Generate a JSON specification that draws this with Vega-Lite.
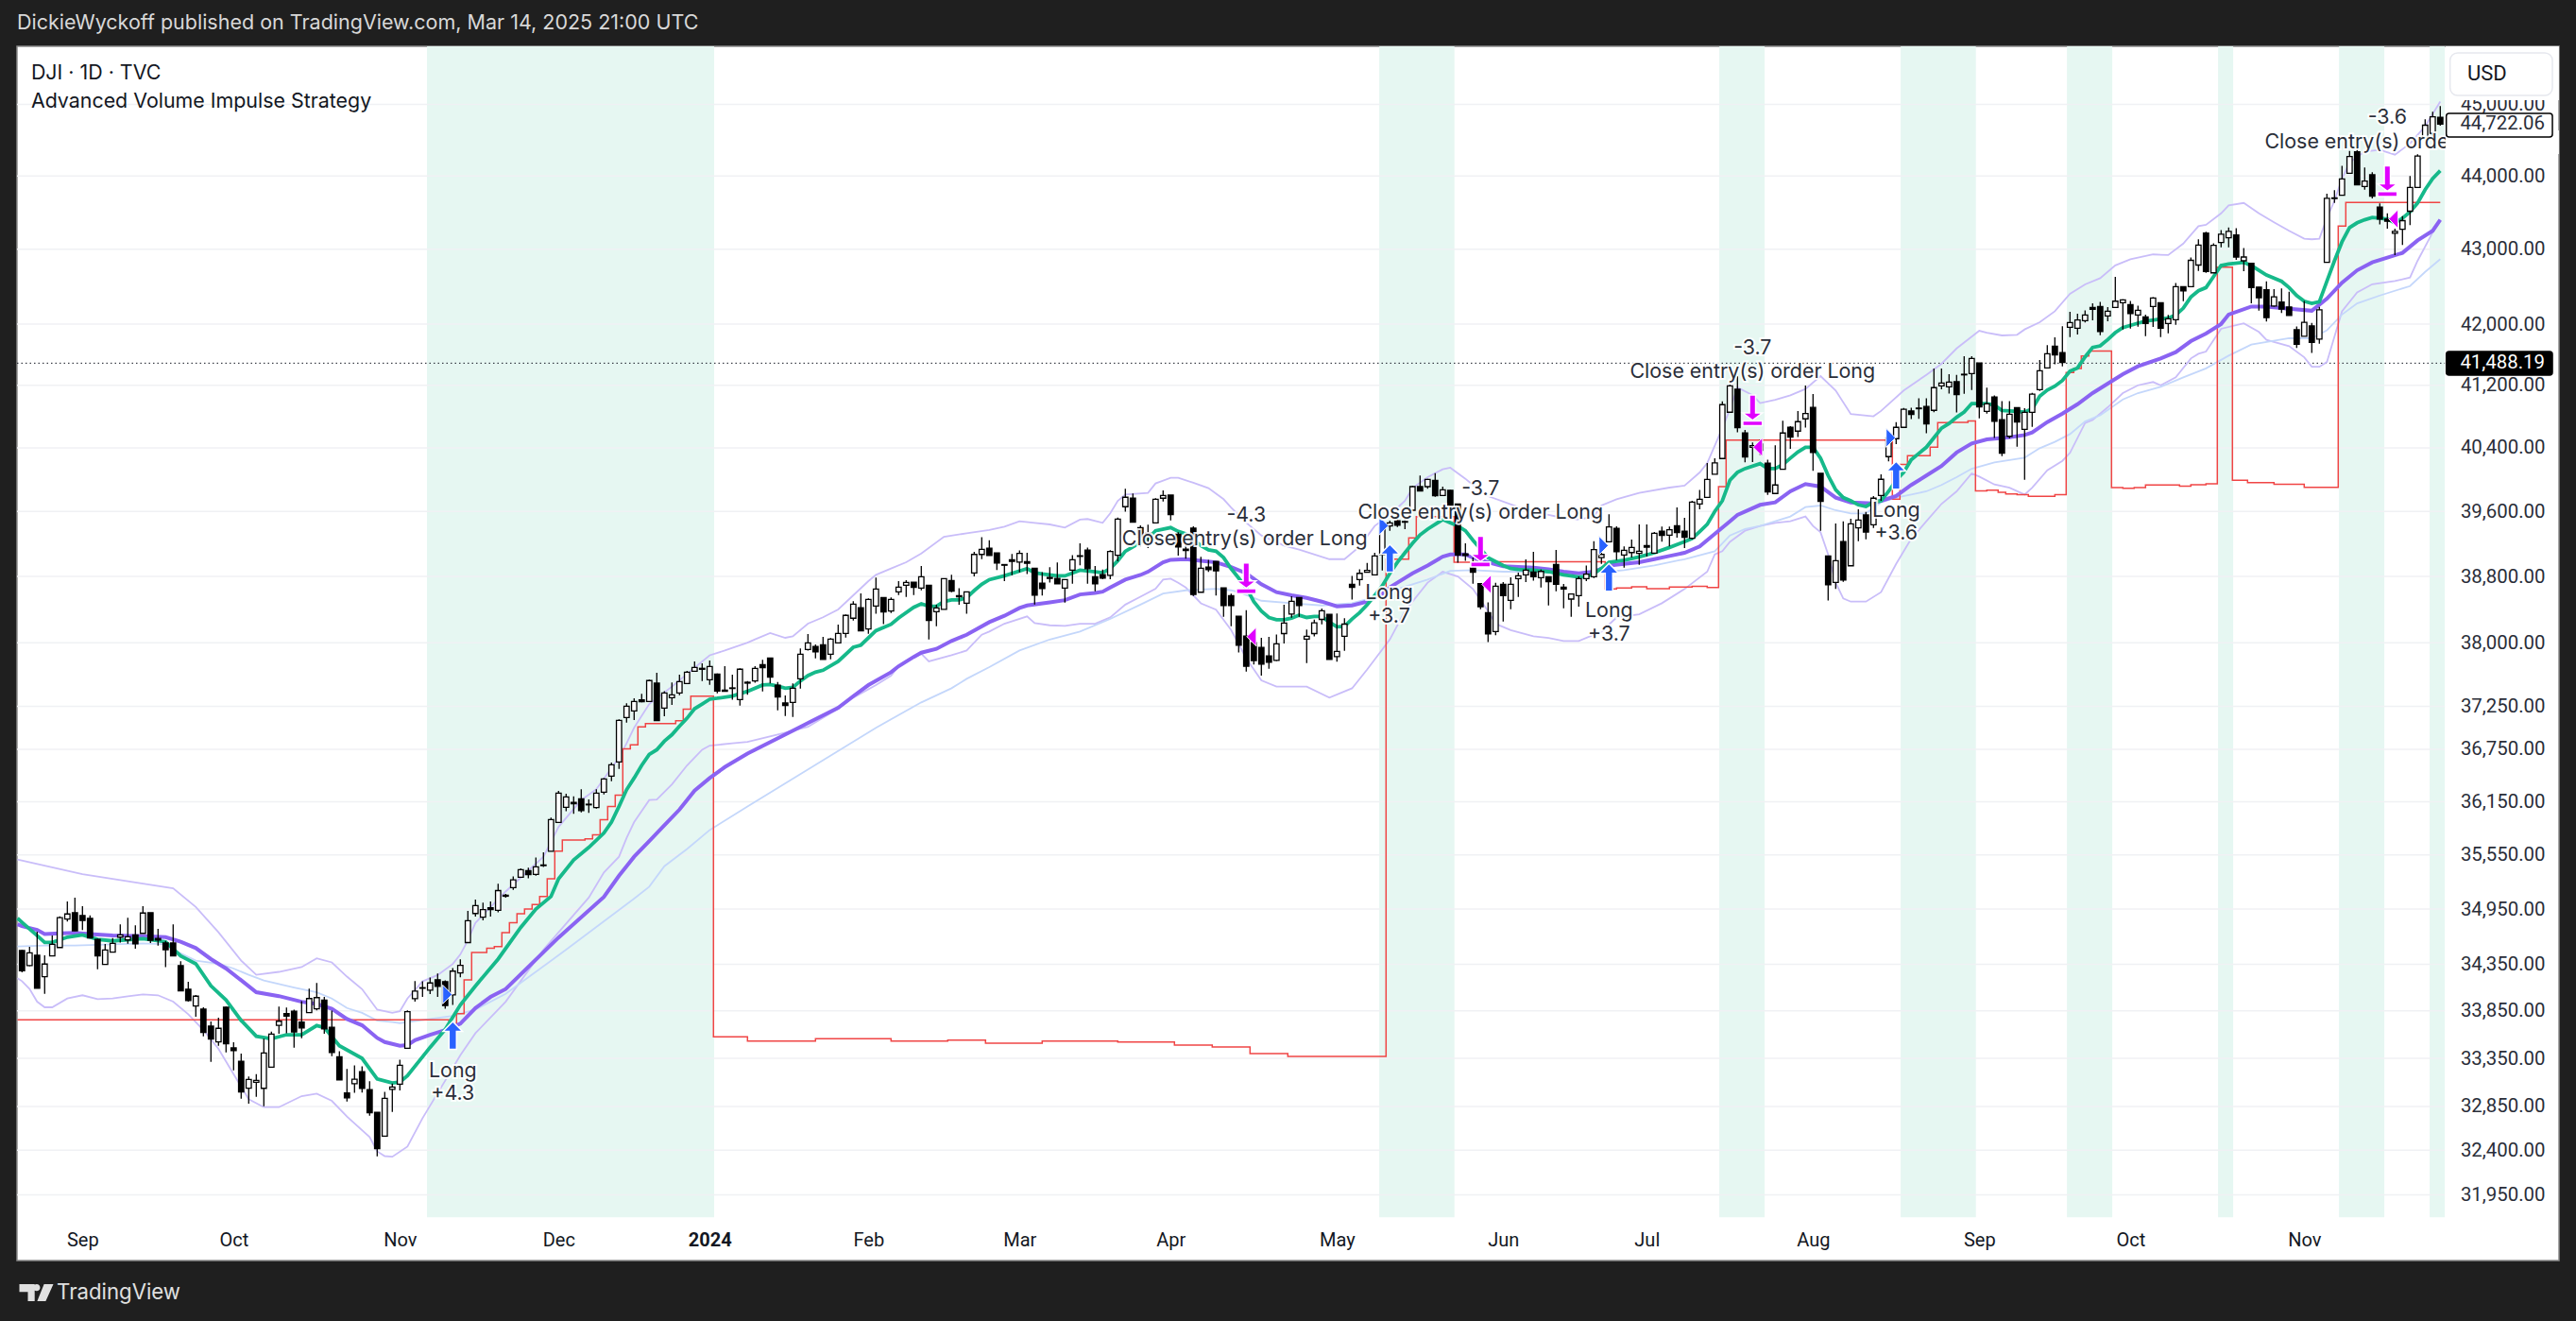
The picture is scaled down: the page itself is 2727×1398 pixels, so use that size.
{"$schema":"https://vega.github.io/schema/vega-lite/v6.json","width":2691,"height":1285,"autosize":{"type":"none"},"padding":{"left":18,"top":49,"right":18,"bottom":64},"background":"#1f1f1f","view":{"fill":"#ffffff","stroke":"#8a8a8a","strokeWidth":1.5},
"config":{"axis":{"title":null,"grid":false,"ticks":false,"domain":false}},
"title":{"text":"DickieWyckoff published on TradingView.com, Mar 14, 2025 21:00 UTC","anchor":"start","frame":"group","offset":14,"color":"#d8d8d8","font":"Inter","fontSize":21.5,"fontWeight":"normal"},
"datasets":{
"bars":[{"i":0,"o":34498,"h":34505,"l":34264,"c":34281},{"i":1,"o":34335,"h":34539,"l":34328,"c":34474},{"i":2,"o":34447,"h":34702,"l":34091,"c":34091},{"i":3,"o":34216,"h":34447,"l":34033,"c":34352},{"i":4,"o":34440,"h":34661,"l":34440,"c":34565},{"i":5,"o":34531,"h":34870,"l":34531,"c":34856},{"i":6,"o":34842,"h":35035,"l":34815,"c":34897},{"i":7,"o":34911,"h":35077,"l":34712,"c":34712},{"i":8,"o":34880,"h":34983,"l":34722,"c":34825},{"i":9,"o":34849,"h":34880,"l":34634,"c":34634},{"i":10,"o":34620,"h":34625,"l":34295,"c":34440},{"i":11,"o":34349,"h":34570,"l":34349,"c":34505},{"i":12,"o":34481,"h":34634,"l":34481,"c":34576},{"i":13,"o":34644,"h":34784,"l":34586,"c":34668},{"i":14,"o":34613,"h":34856,"l":34573,"c":34648},{"i":15,"o":34668,"h":34774,"l":34518,"c":34570},{"i":16,"o":34685,"h":34983,"l":34685,"c":34907},{"i":17,"o":34911,"h":34911,"l":34580,"c":34610},{"i":18,"o":34630,"h":34733,"l":34552,"c":34613},{"i":19,"o":34580,"h":34603,"l":34318,"c":34508},{"i":20,"o":34580,"h":34784,"l":34440,"c":34440},{"i":21,"o":34335,"h":34382,"l":34064,"c":34064},{"i":22,"o":34081,"h":34161,"l":33950,"c":33960},{"i":23,"o":33902,"h":34020,"l":33788,"c":34007},{"i":24,"o":33869,"h":33889,"l":33582,"c":33622},{"i":25,"o":33689,"h":33739,"l":33314,"c":33552},{"i":26,"o":33522,"h":33778,"l":33482,"c":33666},{"i":27,"o":33889,"h":33896,"l":33413,"c":33502},{"i":28,"o":33459,"h":33519,"l":33224,"c":33432},{"i":29,"o":33320,"h":33399,"l":32930,"c":32999},{"i":30,"o":33038,"h":33159,"l":32878,"c":33129},{"i":31,"o":33100,"h":33185,"l":32950,"c":33119},{"i":32,"o":33037,"h":33555,"l":32852,"c":33405},{"i":33,"o":33257,"h":33631,"l":33257,"c":33604},{"i":34,"o":33698,"h":33897,"l":33608,"c":33741},{"i":35,"o":33823,"h":33887,"l":33614,"c":33796},{"i":36,"o":33847,"h":33863,"l":33461,"c":33627},{"i":37,"o":33732,"h":33954,"l":33561,"c":33670},{"i":38,"o":33833,"h":34089,"l":33833,"c":33982},{"i":39,"o":33873,"h":34149,"l":33857,"c":33992},{"i":40,"o":33965,"h":33999,"l":33608,"c":33660},{"i":41,"o":33677,"h":33853,"l":33372,"c":33412},{"i":42,"o":33366,"h":33425,"l":33124,"c":33124},{"i":43,"o":32990,"h":33240,"l":32900,"c":32939},{"i":44,"o":33085,"h":33277,"l":32990,"c":33131},{"i":45,"o":33211,"h":33267,"l":32994,"c":33037},{"i":46,"o":33024,"h":33111,"l":32755,"c":32784},{"i":47,"o":32790,"h":32790,"l":32338,"c":32416},{"i":48,"o":32544,"h":33001,"l":32544,"c":32933},{"i":49,"o":33027,"h":33086,"l":32793,"c":33050},{"i":50,"o":33080,"h":33335,"l":33014,"c":33277},{"i":51,"o":33455,"h":33857,"l":33455,"c":33843},{"i":52,"o":33980,"h":34170,"l":33948,"c":34062},{"i":53,"o":34092,"h":34166,"l":33999,"c":34098},{"i":54,"o":34071,"h":34207,"l":34030,"c":34149},{"i":55,"o":34183,"h":34251,"l":33999,"c":34112},{"i":56,"o":34163,"h":34176,"l":33874,"c":33907},{"i":57,"o":34022,"h":34310,"l":33914,"c":34276},{"i":58,"o":34256,"h":34403,"l":34210,"c":34338},{"i":59,"o":34585,"h":34930,"l":34585,"c":34823},{"i":60,"o":34902,"h":35056,"l":34868,"c":34989},{"i":61,"o":34861,"h":35021,"l":34827,"c":34944},{"i":62,"o":34965,"h":35035,"l":34868,"c":34944},{"i":63,"o":34937,"h":35229,"l":34916,"c":35154},{"i":64,"o":35103,"h":35117,"l":35075,"c":35092},{"i":65,"o":35187,"h":35312,"l":35163,"c":35274},{"i":66,"o":35302,"h":35400,"l":35295,"c":35386},{"i":67,"o":35375,"h":35407,"l":35291,"c":35330},{"i":68,"o":35333,"h":35522,"l":35319,"c":35417},{"i":69,"o":35431,"h":35578,"l":35417,"c":35438},{"i":70,"o":35592,"h":35970,"l":35592,"c":35946},{"i":71,"o":35914,"h":36272,"l":35914,"c":36247},{"i":72,"o":36085,"h":36240,"l":36042,"c":36204},{"i":73,"o":36143,"h":36211,"l":36013,"c":36125},{"i":74,"o":36183,"h":36292,"l":36028,"c":36049},{"i":75,"o":36114,"h":36175,"l":36024,"c":36121},{"i":76,"o":36082,"h":36292,"l":36071,"c":36247},{"i":77,"o":36258,"h":36419,"l":36233,"c":36408},{"i":78,"o":36441,"h":36596,"l":36383,"c":36571},{"i":79,"o":36604,"h":37096,"l":36524,"c":37085},{"i":80,"o":37118,"h":37284,"l":37059,"c":37251},{"i":81,"o":37195,"h":37343,"l":37088,"c":37306},{"i":82,"o":37325,"h":37395,"l":37295,"c":37302},{"i":83,"o":37306,"h":37562,"l":37306,"c":37551},{"i":84,"o":37521,"h":37644,"l":37081,"c":37081},{"i":85,"o":37228,"h":37425,"l":37132,"c":37406},{"i":86,"o":37350,"h":37528,"l":37266,"c":37383},{"i":87,"o":37406,"h":37621,"l":37380,"c":37539},{"i":88,"o":37517,"h":37666,"l":37510,"c":37651},{"i":89,"o":37662,"h":37777,"l":37662,"c":37707},{"i":90,"o":37696,"h":37755,"l":37547,"c":37685},{"i":91,"o":37562,"h":37789,"l":37502,"c":37718},{"i":92,"o":37629,"h":37636,"l":37402,"c":37428},{"i":93,"o":37439,"h":37722,"l":37425,"c":37425},{"i":94,"o":37458,"h":37621,"l":37325,"c":37465},{"i":95,"o":37328,"h":37696,"l":37258,"c":37685},{"i":96,"o":37532,"h":37547,"l":37384,"c":37521},{"i":97,"o":37547,"h":37722,"l":37525,"c":37696},{"i":98,"o":37740,"h":37796,"l":37424,"c":37703},{"i":99,"o":37817,"h":37821,"l":37517,"c":37591},{"i":100,"o":37498,"h":37535,"l":37203,"c":37358},{"i":101,"o":37288,"h":37376,"l":37136,"c":37258},{"i":102,"o":37295,"h":37517,"l":37125,"c":37461},{"i":103,"o":37572,"h":37931,"l":37458,"c":37863},{"i":104,"o":37920,"h":38104,"l":37908,"c":37999},{"i":105,"o":37957,"h":37980,"l":37815,"c":37893},{"i":106,"o":37976,"h":38071,"l":37802,"c":37802},{"i":107,"o":37863,"h":38055,"l":37802,"c":38043},{"i":108,"o":37999,"h":38218,"l":37999,"c":38111},{"i":109,"o":38111,"h":38340,"l":38061,"c":38328},{"i":110,"o":38294,"h":38499,"l":38267,"c":38463},{"i":111,"o":38421,"h":38593,"l":38142,"c":38142},{"i":112,"o":38165,"h":38533,"l":38108,"c":38521},{"i":113,"o":38440,"h":38785,"l":38347,"c":38647},{"i":114,"o":38544,"h":38544,"l":38222,"c":38370},{"i":115,"o":38381,"h":38544,"l":38358,"c":38521},{"i":116,"o":38613,"h":38743,"l":38575,"c":38670},{"i":117,"o":38693,"h":38754,"l":38551,"c":38728},{"i":118,"o":38731,"h":38731,"l":38575,"c":38666},{"i":119,"o":38658,"h":38927,"l":38632,"c":38797},{"i":120,"o":38693,"h":38693,"l":38040,"c":38267},{"i":121,"o":38373,"h":38457,"l":38199,"c":38419},{"i":122,"o":38400,"h":38774,"l":38400,"c":38774},{"i":123,"o":38751,"h":38820,"l":38609,"c":38620},{"i":124,"o":38567,"h":38658,"l":38457,"c":38552},{"i":125,"o":38476,"h":38613,"l":38347,"c":38613},{"i":126,"o":38842,"h":39100,"l":38800,"c":39069},{"i":127,"o":39069,"h":39282,"l":39010,"c":39131},{"i":128,"o":39146,"h":39244,"l":39056,"c":39056},{"i":129,"o":39088,"h":39088,"l":38879,"c":38964},{"i":130,"o":38945,"h":38945,"l":38742,"c":38937},{"i":131,"o":39003,"h":39076,"l":38814,"c":38984},{"i":132,"o":38976,"h":39118,"l":38849,"c":39083},{"i":133,"o":38980,"h":39088,"l":38830,"c":38961},{"i":134,"o":38899,"h":38899,"l":38459,"c":38573},{"i":135,"o":38719,"h":38853,"l":38569,"c":38654},{"i":136,"o":38788,"h":38914,"l":38726,"c":38776},{"i":137,"o":38776,"h":38972,"l":38711,"c":38711},{"i":138,"o":38658,"h":38761,"l":38482,"c":38761},{"i":139,"o":38876,"h":39061,"l":38711,"c":39003},{"i":140,"o":39045,"h":39205,"l":38937,"c":39053},{"i":141,"o":39122,"h":39153,"l":38711,"c":38895},{"i":142,"o":38795,"h":38926,"l":38619,"c":38711},{"i":143,"o":38822,"h":38883,"l":38765,"c":38780},{"i":144,"o":38814,"h":39122,"l":38765,"c":39106},{"i":145,"o":39060,"h":39525,"l":38984,"c":39506},{"i":146,"o":39659,"h":39883,"l":39596,"c":39777},{"i":147,"o":39765,"h":39824,"l":39467,"c":39467},{"i":148,"o":39400,"h":39427,"l":39162,"c":39284},{"i":149,"o":39329,"h":39435,"l":39146,"c":39314},{"i":150,"o":39459,"h":39765,"l":39459,"c":39753},{"i":151,"o":39765,"h":39863,"l":39725,"c":39800},{"i":152,"o":39804,"h":39804,"l":39490,"c":39561},{"i":153,"o":39318,"h":39342,"l":39056,"c":39162},{"i":154,"o":39134,"h":39205,"l":39018,"c":39118},{"i":155,"o":39392,"h":39416,"l":38562,"c":38581},{"i":156,"o":38608,"h":39041,"l":38608,"c":38899},{"i":157,"o":38914,"h":39003,"l":38856,"c":38883},{"i":158,"o":38984,"h":38984,"l":38569,"c":38868},{"i":159,"o":38662,"h":38662,"l":38311,"c":38448},{"i":160,"o":38565,"h":38592,"l":38197,"c":38448},{"i":161,"o":38318,"h":38318,"l":37884,"c":37971},{"i":162,"o":38080,"h":38391,"l":37658,"c":37721},{"i":163,"o":38001,"h":38001,"l":37740,"c":37788},{"i":164,"o":37944,"h":38058,"l":37610,"c":37747},{"i":165,"o":37843,"h":38069,"l":37691,"c":37769},{"i":166,"o":37791,"h":38099,"l":37784,"c":37986},{"i":167,"o":38110,"h":38456,"l":37990,"c":38235},{"i":168,"o":38345,"h":38559,"l":38299,"c":38498},{"i":169,"o":38544,"h":38544,"l":38311,"c":38448},{"i":170,"o":38043,"h":38159,"l":37758,"c":38077},{"i":171,"o":38110,"h":38276,"l":38077,"c":38239},{"i":172,"o":38280,"h":38410,"l":38220,"c":38383},{"i":173,"o":38341,"h":38341,"l":37802,"c":37802},{"i":174,"o":37836,"h":38352,"l":37776,"c":37896},{"i":175,"o":38077,"h":38295,"l":37903,"c":38223},{"i":176,"o":38704,"h":38807,"l":38518,"c":38666},{"i":177,"o":38762,"h":38888,"l":38689,"c":38838},{"i":178,"o":38850,"h":38965,"l":38850,"c":38873},{"i":179,"o":38819,"h":39089,"l":38819,"c":39050},{"i":180,"o":39069,"h":39440,"l":38873,"c":39400},{"i":181,"o":39420,"h":39487,"l":39361,"c":39459},{"i":182,"o":39483,"h":39498,"l":39408,"c":39428},{"i":183,"o":39467,"h":39538,"l":39381,"c":39475},{"i":184,"o":39615,"h":39922,"l":39615,"c":39910},{"i":185,"o":39910,"h":40049,"l":39855,"c":39855},{"i":186,"o":39910,"h":40009,"l":39882,"c":40001},{"i":187,"o":39989,"h":40080,"l":39784,"c":39795},{"i":188,"o":39799,"h":39910,"l":39791,"c":39870},{"i":189,"o":39863,"h":39870,"l":39666,"c":39666},{"i":190,"o":39694,"h":39694,"l":38968,"c":39061},{"i":191,"o":39077,"h":39206,"l":38992,"c":39057},{"i":192,"o":38904,"h":39030,"l":38712,"c":38850},{"i":193,"o":38712,"h":38712,"l":38402,"c":38433},{"i":194,"o":38361,"h":38486,"l":38009,"c":38107},{"i":195,"o":38133,"h":38723,"l":38091,"c":38681},{"i":196,"o":38704,"h":38731,"l":38254,"c":38567},{"i":197,"o":38509,"h":38788,"l":38402,"c":38704},{"i":198,"o":38773,"h":38846,"l":38551,"c":38808},{"i":199,"o":38819,"h":39007,"l":38731,"c":38877},{"i":200,"o":38854,"h":39100,"l":38750,"c":38796},{"i":201,"o":38784,"h":38884,"l":38666,"c":38861},{"i":202,"o":38796,"h":38796,"l":38448,"c":38735},{"i":203,"o":38946,"h":39124,"l":38620,"c":38704},{"i":204,"o":38670,"h":38708,"l":38414,"c":38647},{"i":205,"o":38525,"h":38586,"l":38311,"c":38586},{"i":206,"o":38567,"h":38800,"l":38433,"c":38773},{"i":207,"o":38773,"h":38934,"l":38743,"c":38827},{"i":208,"o":38796,"h":39233,"l":38781,"c":39128},{"i":209,"o":39030,"h":39147,"l":38953,"c":39069},{"i":210,"o":39225,"h":39564,"l":39225,"c":39408},{"i":211,"o":39389,"h":39416,"l":38999,"c":39104},{"i":212,"o":39061,"h":39167,"l":38908,"c":39120},{"i":213,"o":39092,"h":39252,"l":39030,"c":39155},{"i":214,"o":39081,"h":39440,"l":38942,"c":39108},{"i":215,"o":39178,"h":39440,"l":39042,"c":39159},{"i":216,"o":39085,"h":39346,"l":39077,"c":39330},{"i":217,"o":39354,"h":39412,"l":39225,"c":39303},{"i":218,"o":39307,"h":39412,"l":39167,"c":39373},{"i":219,"o":39424,"h":39651,"l":39276,"c":39338},{"i":220,"o":39354,"h":39522,"l":39147,"c":39280},{"i":221,"o":39268,"h":39732,"l":39256,"c":39717},{"i":222,"o":39694,"h":39870,"l":39627,"c":39752},{"i":223,"o":39775,"h":40207,"l":39775,"c":40001},{"i":224,"o":40065,"h":40268,"l":40065,"c":40208},{"i":225,"o":40264,"h":40992,"l":40264,"c":40951},{"i":226,"o":40854,"h":41206,"l":40854,"c":41194},{"i":227,"o":41150,"h":41317,"l":40596,"c":40657},{"i":228,"o":40588,"h":40628,"l":40216,"c":40284},{"i":229,"o":40407,"h":40467,"l":40220,"c":40427},{"i":230,"o":40447,"h":40508,"l":40308,"c":40367},{"i":231,"o":40204,"h":40248,"l":39805,"c":39844},{"i":232,"o":39824,"h":40431,"l":39824,"c":39931},{"i":233,"o":40129,"h":40745,"l":40129,"c":40588},{"i":234,"o":40660,"h":40676,"l":40387,"c":40536},{"i":235,"o":40612,"h":40870,"l":40536,"c":40733},{"i":236,"o":40769,"h":41198,"l":40657,"c":40838},{"i":237,"o":40915,"h":41089,"l":40109,"c":40340},{"i":238,"o":40077,"h":40077,"l":39361,"c":39725},{"i":239,"o":39050,"h":39050,"l":38509,"c":38700},{"i":240,"o":38727,"h":39451,"l":38647,"c":38992},{"i":241,"o":39228,"h":39478,"l":38733,"c":38756},{"i":242,"o":38930,"h":39510,"l":38930,"c":39447},{"i":243,"o":39396,"h":39627,"l":39232,"c":39494},{"i":244,"o":39556,"h":39595,"l":39255,"c":39345},{"i":245,"o":39435,"h":39793,"l":39396,"c":39765},{"i":246,"o":39800,"h":40065,"l":39733,"c":40002},{"i":247,"o":40288,"h":40608,"l":40228,"c":40528},{"i":248,"o":40516,"h":40728,"l":40447,"c":40660},{"i":249,"o":40660,"h":40907,"l":40660,"c":40891},{"i":250,"o":40870,"h":40911,"l":40765,"c":40826},{"i":251,"o":40907,"h":41032,"l":40769,"c":40899},{"i":252,"o":40927,"h":41032,"l":40584,"c":40705},{"i":253,"o":40878,"h":41419,"l":40854,"c":41170},{"i":254,"o":41194,"h":41419,"l":41150,"c":41231},{"i":255,"o":41182,"h":41345,"l":41093,"c":41243},{"i":256,"o":41247,"h":41337,"l":40850,"c":41081},{"i":257,"o":41336,"h":41579,"l":41091,"c":41344},{"i":258,"o":41352,"h":41579,"l":41140,"c":41550},{"i":259,"o":41492,"h":41492,"l":40776,"c":40921},{"i":260,"o":40864,"h":41169,"l":40836,"c":40961},{"i":261,"o":41050,"h":41071,"l":40526,"c":40739},{"i":262,"o":40759,"h":40997,"l":40295,"c":40331},{"i":263,"o":40546,"h":40997,"l":40518,"c":40828},{"i":264,"o":40913,"h":40913,"l":40415,"c":40727},{"i":265,"o":40634,"h":40904,"l":39997,"c":40852},{"i":266,"o":40852,"h":41102,"l":40667,"c":41087},{"i":267,"o":41144,"h":41529,"l":41128,"c":41389},{"i":268,"o":41426,"h":41723,"l":41426,"c":41611},{"i":269,"o":41710,"h":41826,"l":41475,"c":41595},{"i":270,"o":41627,"h":41971,"l":41447,"c":41496},{"i":271,"o":41959,"h":42162,"l":41830,"c":42021},{"i":272,"o":41946,"h":42137,"l":41863,"c":42054},{"i":273,"o":42046,"h":42183,"l":42021,"c":42121},{"i":274,"o":42220,"h":42275,"l":42050,"c":42195},{"i":275,"o":42233,"h":42295,"l":41855,"c":41904},{"i":276,"o":42108,"h":42225,"l":42038,"c":42170},{"i":277,"o":42220,"h":42628,"l":42220,"c":42304},{"i":278,"o":42283,"h":42329,"l":41930,"c":42321},{"i":279,"o":42258,"h":42308,"l":41942,"c":42141},{"i":280,"o":42121,"h":42245,"l":41967,"c":42183},{"i":281,"o":42096,"h":42125,"l":41842,"c":42008},{"i":282,"o":42233,"h":42358,"l":41963,"c":42346},{"i":283,"o":42283,"h":42283,"l":41830,"c":41946},{"i":284,"o":42009,"h":42121,"l":41880,"c":42071},{"i":285,"o":42058,"h":42547,"l":41992,"c":42497},{"i":286,"o":42497,"h":42497,"l":42304,"c":42441},{"i":287,"o":42497,"h":42888,"l":42497,"c":42850},{"i":288,"o":42787,"h":43133,"l":42707,"c":43056},{"i":289,"o":43219,"h":43237,"l":42682,"c":42699},{"i":290,"o":42682,"h":43079,"l":42682,"c":43053},{"i":291,"o":43091,"h":43258,"l":43027,"c":43202},{"i":292,"o":43155,"h":43296,"l":43027,"c":43241},{"i":293,"o":43194,"h":43284,"l":42857,"c":42895},{"i":294,"o":42844,"h":43015,"l":42704,"c":42895},{"i":295,"o":42810,"h":42810,"l":42274,"c":42484},{"i":296,"o":42492,"h":42492,"l":42178,"c":42350},{"i":297,"o":42455,"h":42567,"l":42036,"c":42086},{"i":298,"o":42240,"h":42464,"l":42232,"c":42362},{"i":299,"o":42291,"h":42472,"l":42148,"c":42199},{"i":300,"o":42228,"h":42430,"l":42115,"c":42115},{"i":301,"o":41926,"h":41968,"l":41686,"c":41735},{"i":302,"o":41839,"h":42308,"l":41839,"c":42023},{"i":303,"o":41977,"h":42015,"l":41623,"c":41760},{"i":304,"o":41802,"h":42228,"l":41744,"c":42190},{"i":305,"o":42823,"h":43755,"l":42823,"c":43694},{"i":306,"o":43690,"h":43804,"l":43629,"c":43699},{"i":307,"o":43734,"h":44140,"l":43734,"c":43961},{"i":308,"o":44039,"h":44347,"l":44039,"c":44272},{"i":309,"o":44337,"h":44403,"l":43877,"c":43877},{"i":310,"o":43856,"h":44118,"l":43812,"c":43930},{"i":311,"o":44017,"h":44052,"l":43690,"c":43721},{"i":312,"o":43573,"h":43625,"l":43336,"c":43409},{"i":313,"o":43409,"h":43487,"l":43280,"c":43379},{"i":314,"o":43215,"h":43280,"l":42921,"c":43241},{"i":315,"o":43271,"h":43449,"l":43057,"c":43388},{"i":316,"o":43517,"h":44000,"l":43327,"c":43843},{"i":317,"o":43843,"h":44302,"l":43843,"c":44276},{"i":318,"o":44535,"h":44791,"l":44535,"c":44708},{"i":319,"o":44593,"h":44898,"l":44557,"c":44827},{"i":320,"o":44818,"h":44978,"l":44700,"c":44722.06}],
"ema":[{"i":-0.6,"p":34850},{"i":0,"p":34805},{"i":2,"p":34661},{"i":3,"p":34586},{"i":4,"p":34586},{"i":6,"p":34644},{"i":8,"p":34668},{"i":10,"p":34620},{"i":12,"p":34603},{"i":16,"p":34627},{"i":19,"p":34593},{"i":21,"p":34440},{"i":23,"p":34355},{"i":25,"p":34118},{"i":27,"p":33966},{"i":29,"p":33749},{"i":31,"p":33582},{"i":33,"p":33555},{"i":35,"p":33598},{"i":37,"p":33598},{"i":39,"p":33695},{"i":40,"p":33675},{"i":42,"p":33482},{"i":45,"p":33350},{"i":47,"p":33135},{"i":49,"p":33092},{"i":50,"p":33101},{"i":51,"p":33168},{"i":54,"p":33465},{"i":56,"p":33654},{"i":58,"p":33914},{"i":59,"p":34015},{"i":60,"p":34116},{"i":63,"p":34406},{"i":66,"p":34750},{"i":68,"p":34950},{"i":70,"p":35090},{"i":71,"p":35284},{"i":73,"p":35494},{"i":75,"p":35634},{"i":77,"p":35795},{"i":78,"p":35918},{"i":79,"p":36096},{"i":80,"p":36285},{"i":81,"p":36419},{"i":82,"p":36564},{"i":83,"p":36690},{"i":84,"p":36744},{"i":85,"p":36843},{"i":86,"p":36918},{"i":87,"p":37017},{"i":88,"p":37110},{"i":89,"p":37221},{"i":90,"p":37276},{"i":91,"p":37332},{"i":92,"p":37343},{"i":94,"p":37369},{"i":96,"p":37424},{"i":98,"p":37499},{"i":99,"p":37506},{"i":100,"p":37487},{"i":101,"p":37461},{"i":102,"p":37472},{"i":103,"p":37547},{"i":104,"p":37610},{"i":105,"p":37651},{"i":106,"p":37673},{"i":108,"p":37778},{"i":110,"p":37946},{"i":111,"p":37972},{"i":113,"p":38145},{"i":115,"p":38221},{"i":116,"p":38297},{"i":118,"p":38426},{"i":119,"p":38468},{"i":120,"p":38438},{"i":121,"p":38438},{"i":122,"p":38495},{"i":123,"p":38514},{"i":124,"p":38514},{"i":125,"p":38541},{"i":126,"p":38628},{"i":127,"p":38705},{"i":128,"p":38761},{"i":130,"p":38807},{"i":133,"p":38895},{"i":134,"p":38845},{"i":135,"p":38830},{"i":137,"p":38807},{"i":138,"p":38807},{"i":140,"p":38876},{"i":142,"p":38857},{"i":143,"p":38845},{"i":144,"p":38895},{"i":145,"p":38992},{"i":146,"p":39108},{"i":148,"p":39216},{"i":149,"p":39263},{"i":150,"p":39360},{"i":152,"p":39400},{"i":153,"p":39353},{"i":154,"p":39322},{"i":156,"p":39177},{"i":157,"p":39126},{"i":158,"p":39108},{"i":159,"p":39030},{"i":160,"p":38895},{"i":162,"p":38666},{"i":163,"p":38494},{"i":164,"p":38380},{"i":165,"p":38303},{"i":166,"p":38276},{"i":167,"p":38276},{"i":168,"p":38295},{"i":169,"p":38330},{"i":170,"p":38303},{"i":171,"p":38315},{"i":172,"p":38315},{"i":173,"p":38246},{"i":174,"p":38190},{"i":175,"p":38197},{"i":176,"p":38284},{"i":177,"p":38361},{"i":178,"p":38456},{"i":179,"p":38570},{"i":180,"p":38685},{"i":181,"p":38838},{"i":182,"p":38972},{"i":183,"p":39089},{"i":184,"p":39205},{"i":185,"p":39310},{"i":186,"p":39381},{"i":187,"p":39440},{"i":188,"p":39500},{"i":189,"p":39460},{"i":190,"p":39420},{"i":191,"p":39361},{"i":192,"p":39244},{"i":194,"p":39030},{"i":196,"p":38934},{"i":197,"p":38896},{"i":198,"p":38885},{"i":200,"p":38877},{"i":202,"p":38858},{"i":204,"p":38819},{"i":206,"p":38793},{"i":207,"p":38800},{"i":208,"p":38838},{"i":209,"p":38896},{"i":210,"p":38972},{"i":212,"p":38999},{"i":214,"p":39038},{"i":216,"p":39089},{"i":218,"p":39155},{"i":220,"p":39225},{"i":221,"p":39264},{"i":222,"p":39350},{"i":223,"p":39440},{"i":224,"p":39600},{"i":225,"p":39733},{"i":226,"p":39990},{"i":227,"p":40089},{"i":228,"p":40137},{"i":230,"p":40200},{"i":231,"p":40137},{"i":232,"p":40137},{"i":233,"p":40188},{"i":234,"p":40268},{"i":235,"p":40347},{"i":236,"p":40407},{"i":237,"p":40407},{"i":238,"p":40268},{"i":239,"p":40049},{"i":240,"p":39871},{"i":241,"p":39773},{"i":242,"p":39733},{"i":243,"p":39682},{"i":244,"p":39662},{"i":245,"p":39713},{"i":246,"p":39733},{"i":247,"p":39851},{"i":248,"p":39990},{"i":249,"p":40089},{"i":250,"p":40248},{"i":251,"p":40328},{"i":252,"p":40407},{"i":253,"p":40528},{"i":254,"p":40649},{"i":255,"p":40709},{"i":256,"p":40789},{"i":257,"p":40856},{"i":258,"p":40965},{"i":259,"p":40965},{"i":260,"p":40965},{"i":261,"p":40945},{"i":262,"p":40876},{"i":264,"p":40864},{"i":265,"p":40856},{"i":266,"p":40896},{"i":267,"p":41059},{"i":268,"p":41140},{"i":269,"p":41189},{"i":270,"p":41263},{"i":271,"p":41385},{"i":272,"p":41426},{"i":273,"p":41570},{"i":274,"p":41694},{"i":275,"p":41714},{"i":276,"p":41797},{"i":277,"p":41888},{"i":278,"p":41955},{"i":280,"p":42013},{"i":281,"p":42038},{"i":283,"p":42067},{"i":284,"p":42079},{"i":285,"p":42121},{"i":286,"p":42212},{"i":287,"p":42359},{"i":288,"p":42443},{"i":289,"p":42485},{"i":290,"p":42632},{"i":291,"p":42780},{"i":292,"p":42802},{"i":294,"p":42823},{"i":295,"p":42780},{"i":297,"p":42653},{"i":299,"p":42569},{"i":300,"p":42485},{"i":301,"p":42379},{"i":302,"p":42303},{"i":303,"p":42274},{"i":304,"p":42295},{"i":305,"p":42569},{"i":306,"p":42844},{"i":307,"p":43100},{"i":308,"p":43293},{"i":309,"p":43358},{"i":310,"p":43400},{"i":311,"p":43430},{"i":312,"p":43422},{"i":313,"p":43409},{"i":314,"p":43358},{"i":315,"p":43422},{"i":316,"p":43508},{"i":317,"p":43629},{"i":318,"p":43812},{"i":319,"p":43965},{"i":320,"p":44074}],
"ma":[{"i":-0.6,"p":34785},{"i":0,"p":34764},{"i":2,"p":34723},{"i":3,"p":34678},{"i":5,"p":34685},{"i":7,"p":34689},{"i":9,"p":34678},{"i":12,"p":34661},{"i":16,"p":34654},{"i":19,"p":34644},{"i":21,"p":34593},{"i":23,"p":34525},{"i":25,"p":34406},{"i":27,"p":34304},{"i":29,"p":34178},{"i":31,"p":34050},{"i":34,"p":34008},{"i":37,"p":33948},{"i":39,"p":33924},{"i":41,"p":33874},{"i":43,"p":33764},{"i":45,"p":33698},{"i":47,"p":33564},{"i":48,"p":33521},{"i":50,"p":33482},{"i":51,"p":33488},{"i":52,"p":33541},{"i":54,"p":33598},{"i":56,"p":33647},{"i":58,"p":33714},{"i":60,"p":33881},{"i":62,"p":33999},{"i":64,"p":34084},{"i":71,"p":34640},{"i":77,"p":35084},{"i":79,"p":35319},{"i":80,"p":35424},{"i":81,"p":35530},{"i":83,"p":35705},{"i":85,"p":35882},{"i":87,"p":36060},{"i":89,"p":36275},{"i":91,"p":36419},{"i":93,"p":36545},{"i":96,"p":36701},{"i":103,"p":37010},{"i":108,"p":37232},{"i":110,"p":37368},{"i":112,"p":37498},{"i":115,"p":37650},{"i":116,"p":37721},{"i":118,"p":37832},{"i":119,"p":37882},{"i":121,"p":37927},{"i":123,"p":38022},{"i":125,"p":38096},{"i":128,"p":38247},{"i":130,"p":38323},{"i":132,"p":38417},{"i":133,"p":38448},{"i":136,"p":38486},{"i":138,"p":38512},{"i":140,"p":38581},{"i":142,"p":38600},{"i":143,"p":38615},{"i":144,"p":38665},{"i":146,"p":38761},{"i":148,"p":38818},{"i":149,"p":38857},{"i":151,"p":38972},{"i":152,"p":39003},{"i":154,"p":39011},{"i":156,"p":38992},{"i":158,"p":38972},{"i":160,"p":38914},{"i":162,"p":38838},{"i":164,"p":38704},{"i":166,"p":38609},{"i":168,"p":38571},{"i":170,"p":38540},{"i":172,"p":38494},{"i":174,"p":38437},{"i":176,"p":38448},{"i":178,"p":38494},{"i":180,"p":38590},{"i":181,"p":38666},{"i":182,"p":38724},{"i":184,"p":38838},{"i":186,"p":38934},{"i":188,"p":39042},{"i":189,"p":39069},{"i":191,"p":39069},{"i":192,"p":39030},{"i":194,"p":38973},{"i":196,"p":38923},{"i":198,"p":38915},{"i":200,"p":38907},{"i":202,"p":38888},{"i":204,"p":38858},{"i":206,"p":38838},{"i":208,"p":38858},{"i":210,"p":38934},{"i":212,"p":38953},{"i":214,"p":38973},{"i":216,"p":39011},{"i":218,"p":39050},{"i":220,"p":39089},{"i":222,"p":39167},{"i":224,"p":39323},{"i":226,"p":39478},{"i":227,"p":39556},{"i":230,"p":39682},{"i":232,"p":39713},{"i":234,"p":39851},{"i":236,"p":39943},{"i":238,"p":39911},{"i":240,"p":39773},{"i":242,"p":39713},{"i":245,"p":39701},{"i":246,"p":39733},{"i":248,"p":39792},{"i":250,"p":39931},{"i":252,"p":40049},{"i":254,"p":40169},{"i":256,"p":40340},{"i":258,"p":40454},{"i":260,"p":40506},{"i":263,"p":40534},{"i":265,"p":40562},{"i":266,"p":40594},{"i":268,"p":40727},{"i":270,"p":40836},{"i":272,"p":40957},{"i":274,"p":41100},{"i":276,"p":41222},{"i":278,"p":41344},{"i":280,"p":41447},{"i":283,"p":41550},{"i":285,"p":41632},{"i":287,"p":41776},{"i":289,"p":41876},{"i":291,"p":42002},{"i":292,"p":42127},{"i":295,"p":42232},{"i":297,"p":42232},{"i":300,"p":42202},{"i":303,"p":42177},{"i":305,"p":42337},{"i":307,"p":42550},{"i":309,"p":42716},{"i":311,"p":42823},{"i":313,"p":42887},{"i":315,"p":42951},{"i":317,"p":43120},{"i":319,"p":43250},{"i":320,"p":43400}],
"upper":[{"i":-0.6,"p":35500},{"i":8,"p":35337},{"i":16,"p":35232},{"i":20,"p":35180},{"i":23,"p":34973},{"i":26,"p":34697},{"i":29,"p":34390},{"i":31,"p":34236},{"i":34,"p":34268},{"i":37,"p":34319},{"i":39,"p":34414},{"i":41,"p":34370},{"i":43,"p":34217},{"i":45,"p":34083},{"i":47,"p":33864},{"i":49,"p":33830},{"i":50,"p":33847},{"i":51,"p":33982},{"i":53,"p":34166},{"i":55,"p":34234},{"i":57,"p":34353},{"i":58,"p":34456},{"i":59,"p":34609},{"i":60,"p":34799},{"i":62,"p":34972},{"i":64,"p":35144},{"i":69,"p":35530},{"i":71,"p":35865},{"i":74,"p":36168},{"i":76,"p":36292},{"i":79,"p":36654},{"i":80,"p":36818},{"i":81,"p":37000},{"i":83,"p":37276},{"i":86,"p":37480},{"i":89,"p":37703},{"i":91,"p":37851},{"i":93,"p":37908},{"i":96,"p":38001},{"i":97,"p":38040},{"i":99,"p":38116},{"i":101,"p":38059},{"i":102,"p":38078},{"i":104,"p":38229},{"i":106,"p":38305},{"i":108,"p":38400},{"i":110,"p":38571},{"i":112,"p":38743},{"i":113,"p":38820},{"i":115,"p":38897},{"i":117,"p":38973},{"i":119,"p":39080},{"i":122,"p":39286},{"i":125,"p":39330},{"i":128,"p":39370},{"i":130,"p":39412},{"i":132,"p":39478},{"i":134,"p":39459},{"i":136,"p":39439},{"i":138,"p":39400},{"i":140,"p":39498},{"i":141,"p":39506},{"i":143,"p":39459},{"i":144,"p":39576},{"i":145,"p":39733},{"i":146,"p":39812},{"i":149,"p":39832},{"i":150,"p":39950},{"i":152,"p":40021},{"i":153,"p":40021},{"i":155,"p":39958},{"i":157,"p":39891},{"i":159,"p":39753},{"i":160,"p":39650},{"i":162,"p":39460},{"i":164,"p":39303},{"i":167,"p":39178},{"i":169,"p":39128},{"i":173,"p":39011},{"i":175,"p":39011},{"i":177,"p":39167},{"i":179,"p":39420},{"i":181,"p":39557},{"i":183,"p":39733},{"i":184,"p":39890},{"i":186,"p":40029},{"i":188,"p":40128},{"i":189,"p":40148},{"i":191,"p":40009},{"i":192,"p":39930},{"i":194,"p":39792},{"i":198,"p":39655},{"i":200,"p":39596},{"i":202,"p":39557},{"i":204,"p":39518},{"i":206,"p":39498},{"i":208,"p":39537},{"i":209,"p":39674},{"i":211,"p":39752},{"i":214,"p":39831},{"i":218,"p":39898},{"i":220,"p":39922},{"i":222,"p":40088},{"i":223,"p":40207},{"i":225,"p":40650},{"i":226,"p":40891},{"i":227,"p":41173},{"i":229,"p":41072},{"i":230,"p":40971},{"i":232,"p":41012},{"i":234,"p":41072},{"i":236,"p":41153},{"i":238,"p":41320},{"i":240,"p":41133},{"i":242,"p":40830},{"i":245,"p":40802},{"i":246,"p":40870},{"i":249,"p":41133},{"i":252,"p":41337},{"i":254,"p":41480},{"i":256,"p":41680},{"i":259,"p":41913},{"i":260,"p":41888},{"i":262,"p":41851},{"i":264,"p":41860},{"i":265,"p":41930},{"i":267,"p":42025},{"i":269,"p":42170},{"i":271,"p":42401},{"i":273,"p":42527},{"i":275,"p":42611},{"i":277,"p":42782},{"i":279,"p":42865},{"i":282,"p":42930},{"i":284,"p":42921},{"i":286,"p":43077},{"i":288,"p":43313},{"i":289,"p":43330},{"i":291,"p":43487},{"i":292,"p":43595},{"i":294,"p":43629},{"i":296,"p":43487},{"i":298,"p":43366},{"i":300,"p":43250},{"i":302,"p":43142},{"i":303,"p":43134},{"i":304,"p":43142},{"i":305,"p":43422},{"i":306,"p":43659},{"i":307,"p":43965},{"i":308,"p":44186},{"i":310,"p":44340},{"i":312,"p":44362},{"i":314,"p":44296},{"i":316,"p":44451},{"i":318,"p":44692},{"i":320,"p":45041}],
"lower":[{"i":-0.6,"p":34200},{"i":0,"p":34168},{"i":1,"p":34084},{"i":2,"p":33949},{"i":3,"p":33889},{"i":4,"p":33889},{"i":6,"p":33983},{"i":8,"p":34017},{"i":10,"p":33976},{"i":12,"p":33983},{"i":14,"p":34007},{"i":16,"p":34027},{"i":18,"p":34017},{"i":20,"p":33949},{"i":22,"p":33815},{"i":24,"p":33648},{"i":26,"p":33449},{"i":28,"p":33185},{"i":30,"p":32924},{"i":32,"p":32842},{"i":34,"p":32842},{"i":37,"p":32956},{"i":39,"p":32982},{"i":41,"p":32907},{"i":43,"p":32745},{"i":46,"p":32535},{"i":47,"p":32390},{"i":48,"p":32341},{"i":49,"p":32335},{"i":51,"p":32438},{"i":53,"p":32729},{"i":56,"p":33117},{"i":58,"p":33382},{"i":60,"p":33614},{"i":64,"p":33948},{"i":69,"p":34507},{"i":75,"p":35077},{"i":77,"p":35354},{"i":79,"p":35530},{"i":80,"p":35740},{"i":81,"p":35918},{"i":83,"p":36168},{"i":84,"p":36175},{"i":86,"p":36347},{"i":88,"p":36564},{"i":90,"p":36744},{"i":91,"p":36792},{"i":94,"p":36818},{"i":96,"p":36836},{"i":100,"p":36920},{"i":104,"p":37010},{"i":108,"p":37221},{"i":110,"p":37350},{"i":113,"p":37498},{"i":115,"p":37610},{"i":116,"p":37721},{"i":119,"p":37870},{"i":120,"p":37778},{"i":123,"p":37851},{"i":125,"p":37908},{"i":127,"p":38097},{"i":128,"p":38134},{"i":130,"p":38228},{"i":133,"p":38316},{"i":134,"p":38236},{"i":136,"p":38209},{"i":138,"p":38201},{"i":140,"p":38228},{"i":142,"p":38228},{"i":144,"p":38304},{"i":146,"p":38458},{"i":148,"p":38554},{"i":150,"p":38650},{"i":151,"p":38761},{"i":152,"p":38773},{"i":153,"p":38723},{"i":154,"p":38665},{"i":156,"p":38474},{"i":158,"p":38398},{"i":160,"p":38152},{"i":162,"p":37814},{"i":164,"p":37554},{"i":166,"p":37480},{"i":170,"p":37480},{"i":173,"p":37350},{"i":176,"p":37460},{"i":178,"p":37683},{"i":181,"p":38038},{"i":183,"p":38380},{"i":186,"p":38724},{"i":188,"p":38857},{"i":190,"p":38800},{"i":192,"p":38647},{"i":194,"p":38380},{"i":195,"p":38227},{"i":197,"p":38152},{"i":200,"p":38077},{"i":202,"p":38058},{"i":204,"p":38020},{"i":206,"p":38020},{"i":209,"p":38134},{"i":211,"p":38303},{"i":214,"p":38341},{"i":217,"p":38475},{"i":220,"p":38647},{"i":223,"p":38858},{"i":224,"p":39069},{"i":225,"p":39109},{"i":226,"p":39224},{"i":228,"p":39361},{"i":230,"p":39420},{"i":232,"p":39459},{"i":234,"p":39478},{"i":236,"p":39537},{"i":237,"p":39420},{"i":238,"p":39341},{"i":239,"p":39070},{"i":240,"p":38723},{"i":241,"p":38532},{"i":242,"p":38494},{"i":244,"p":38494},{"i":246,"p":38609},{"i":248,"p":38953},{"i":250,"p":39263},{"i":252,"p":39478},{"i":254,"p":39694},{"i":256,"p":39850},{"i":258,"p":40076},{"i":259,"p":40036},{"i":261,"p":39937},{"i":263,"p":39897},{"i":265,"p":39811},{"i":266,"p":39897},{"i":268,"p":40115},{"i":270,"p":40235},{"i":271,"p":40335},{"i":273,"p":40715},{"i":274,"p":40755},{"i":276,"p":40917},{"i":278,"p":41100},{"i":280,"p":41201},{"i":282,"p":41243},{"i":283,"p":41201},{"i":285,"p":41303},{"i":287,"p":41550},{"i":288,"p":41611},{"i":289,"p":41640},{"i":291,"p":41939},{"i":294,"p":42010},{"i":296,"p":41897},{"i":297,"p":41793},{"i":300,"p":41710},{"i":302,"p":41565},{"i":303,"p":41441},{"i":304,"p":41441},{"i":305,"p":41503},{"i":306,"p":41835},{"i":307,"p":42169},{"i":309,"p":42422},{"i":311,"p":42530},{"i":314,"p":42572},{"i":316,"p":42620},{"i":317,"p":42844},{"i":319,"p":43228},{"i":320,"p":43400}],
"blue":[{"i":-0.6,"p":34542},{"i":3,"p":34552},{"i":7,"p":34552},{"i":12,"p":34566},{"i":16,"p":34576},{"i":19,"p":34566},{"i":20,"p":34508},{"i":23,"p":34389},{"i":26,"p":34355},{"i":28,"p":34304},{"i":30,"p":34236},{"i":32,"p":34175},{"i":36,"p":34100},{"i":39,"p":34049},{"i":41,"p":33982},{"i":43,"p":33881},{"i":45,"p":33830},{"i":47,"p":33747},{"i":49,"p":33731},{"i":50,"p":33721},{"i":54,"p":33764},{"i":57,"p":33797},{"i":60,"p":33864},{"i":64,"p":34032},{"i":72,"p":34507},{"i":81,"p":35066},{"i":83,"p":35197},{"i":85,"p":35424},{"i":88,"p":35617},{"i":91,"p":35829},{"i":96,"p":36096},{"i":113,"p":36999},{"i":119,"p":37295},{"i":123,"p":37461},{"i":125,"p":37572},{"i":128,"p":37710},{"i":132,"p":37908},{"i":136,"p":38039},{"i":140,"p":38133},{"i":144,"p":38285},{"i":148,"p":38458},{"i":151,"p":38592},{"i":154,"p":38631},{"i":158,"p":38650},{"i":160,"p":38631},{"i":161,"p":38609},{"i":164,"p":38505},{"i":168,"p":38475},{"i":172,"p":38448},{"i":176,"p":38475},{"i":180,"p":38571},{"i":182,"p":38647},{"i":186,"p":38762},{"i":189,"p":38869},{"i":192,"p":38877},{"i":196,"p":38858},{"i":200,"p":38858},{"i":206,"p":38838},{"i":210,"p":38858},{"i":212,"p":38877},{"i":216,"p":38934},{"i":220,"p":39011},{"i":224,"p":39108},{"i":226,"p":39302},{"i":228,"p":39381},{"i":230,"p":39420},{"i":232,"p":39478},{"i":234,"p":39537},{"i":236,"p":39654},{"i":238,"p":39674},{"i":240,"p":39615},{"i":242,"p":39576},{"i":244,"p":39576},{"i":246,"p":39713},{"i":248,"p":39773},{"i":250,"p":39812},{"i":252,"p":39851},{"i":254,"p":39931},{"i":256,"p":40029},{"i":258,"p":40135},{"i":261,"p":40215},{"i":265,"p":40275},{"i":267,"p":40395},{"i":269,"p":40475},{"i":271,"p":40574},{"i":273,"p":40735},{"i":275,"p":40816},{"i":278,"p":41018},{"i":280,"p":41100},{"i":283,"p":41181},{"i":286,"p":41303},{"i":289,"p":41420},{"i":292,"p":41586},{"i":295,"p":41731},{"i":300,"p":41814},{"i":303,"p":41814},{"i":305,"p":41918},{"i":307,"p":42127},{"i":309,"p":42274},{"i":312,"p":42379},{"i":316,"p":42505},{"i":318,"p":42695},{"i":320,"p":42866}],
"red":[{"i":-0.6,"p":33755},{"i":56,"p":33755},{"i":57,"p":33714},{"i":58,"p":33820},{"i":59,"p":34183},{"i":60,"p":34478},{"i":61,"p":34478},{"i":62,"p":34524},{"i":63,"p":34541},{"i":64,"p":34694},{"i":65,"p":34800},{"i":66,"p":34900},{"i":67,"p":34950},{"i":68,"p":35000},{"i":69,"p":35090},{"i":70,"p":35284},{"i":71,"p":35592},{"i":72,"p":35716},{"i":74,"p":35716},{"i":75,"p":35730},{"i":76,"p":35776},{"i":77,"p":35946},{"i":78,"p":36096},{"i":79,"p":36223},{"i":80,"p":36755},{"i":81,"p":36800},{"i":82,"p":37010},{"i":83,"p":37047},{"i":86,"p":37047},{"i":87,"p":37080},{"i":88,"p":37217},{"i":89,"p":37369},{"i":91,"p":37369},{"i":92,"p":33577},{"i":100,"p":33530},{"i":110,"p":33555},{"i":120,"p":33530},{"i":125,"p":33540},{"i":130,"p":33510},{"i":140,"p":33530},{"i":150,"p":33520},{"i":155,"p":33490},{"i":160,"p":33470},{"i":165,"p":33400},{"i":170,"p":33370},{"i":180,"p":33370},{"i":181,"p":39011},{"i":183,"p":39011},{"i":184,"p":39272},{"i":185,"p":39537},{"i":189,"p":39537},{"i":190,"p":38973},{"i":194,"p":38980},{"i":209,"p":38980},{"i":210,"p":38647},{"i":212,"p":38660},{"i":214,"p":38675},{"i":216,"p":38650},{"i":220,"p":38670},{"i":222,"p":38680},{"i":224,"p":38664},{"i":225,"p":39911},{"i":226,"p":40499},{"i":247,"p":40499},{"i":248,"p":39753},{"i":249,"p":40188},{"i":250,"p":40300},{"i":252,"p":40300},{"i":253,"p":40407},{"i":254,"p":40721},{"i":257,"p":40723},{"i":258,"p":40743},{"i":259,"p":39858},{"i":261,"p":39866},{"i":262,"p":39838},{"i":263,"p":39818},{"i":265,"p":39810},{"i":266,"p":39790},{"i":268,"p":39790},{"i":270,"p":39810},{"i":271,"p":41365},{"i":272,"p":41418},{"i":273,"p":41582},{"i":274,"p":41648},{"i":276,"p":41648},{"i":277,"p":39898},{"i":279,"p":39890},{"i":280,"p":39898},{"i":282,"p":39930},{"i":285,"p":39930},{"i":286,"p":39915},{"i":288,"p":39935},{"i":290,"p":39945},{"i":291,"p":42759},{"i":292,"p":42759},{"i":293,"p":39990},{"i":296,"p":39960},{"i":300,"p":39940},{"i":304,"p":39900},{"i":306,"p":39900},{"i":307,"p":43314},{"i":308,"p":43635},{"i":320,"p":43635}],
"notes":[{"i":161.8,"p":39257,"t":"Close entry(s) order Long"},{"i":162,"p":39544,"t":"-4.3"},{"i":193,"p":39583,"t":"Close entry(s) order Long"},{"i":193,"p":39871,"t":"-3.7"},{"i":229,"p":41369,"t":"Close entry(s) order Long"},{"i":229,"p":41677,"t":"-3.7"},{"i":313,"p":44467,"t":"Close entry(s) order Long"},{"i":313,"p":44804,"t":"-3.6"},{"i":57,"p":33212,"t":"Long"},{"i":57,"p":32973,"t":"+4.3"},{"i":180.9,"p":38590,"t":"Long"},{"i":180.9,"p":38304,"t":"+3.7"},{"i":210,"p":38380,"t":"Long"},{"i":210,"p":38095,"t":"+3.7"},{"i":248,"p":39606,"t":"Long"},{"i":248,"p":39322,"t":"+3.6"}],
"grid":[{"v":45000},{"v":44000},{"v":43000},{"v":42000},{"v":41200},{"v":40400},{"v":39600},{"v":38800},{"v":38000},{"v":37250},{"v":36750},{"v":36150},{"v":35550},{"v":34950},{"v":34350},{"v":33850},{"v":33350},{"v":32850},{"v":32400},{"v":31950}]
},
"layer":[
{"data":{"values":[{"s":53.59,"e":91.59},{"s":179.6,"e":189.55},{"s":224.6,"e":230.6},{"s":248.6,"e":258.55},{"s":270.6,"e":276.6},{"s":290.6,"e":292.6},{"s":306.6,"e":312.6},{"s":318.6,"e":320.6}]},"mark":{"type":"rect","fill":"#e6f7f2"},"encoding":{"x":{"field":"s","type":"quantitative","scale":{"domain":[-0.6625,335.7125],"nice":false,"zero":false,"padding":0}},"x2":{"field":"e"},"y":{"datum":45830,"type":"quantitative","scale":{"type":"log","domain":[31297.6,45830],"nice":false}},"y2":{"datum":31725.6}}},
{"data":{"name":"grid"},"mark":{"type":"rule","color":"#f0f1f4","strokeWidth":1.5},"encoding":{"x":{"datum":-0.6625,"type":"quantitative","scale":{"domain":[-0.6625,335.7125],"nice":false,"zero":false,"padding":0}},"x2":{"datum":320.6},"y":{"field":"v","type":"quantitative","scale":{"type":"log","domain":[31297.6,45830],"nice":false},"axis":{"orient":"right","values":[45000,44000,43000,42000,41200,40400,39600,38800,38000,37250,36750,36150,35550,34950,34350,33850,33350,32850,32400,31950],"format":",.2f","title":null,"grid":false,"ticks":false,"tickSize":0,"domain":false,"labelPadding":-15,"labelAlign":"right","labelBaseline":"middle","labelFont":"Roboto","labelFontSize":20.4,"labelColor":"#2a2e39","labelOverlap":false,"labelBound":false,"labelFlush":false,"zindex":0}}}},
{"data":{"values":[{"v":41488.19}]},"mark":{"type":"rule","color":"#131722","strokeWidth":1,"strokeDash":[1.5,3]},"encoding":{"x":{"datum":-0.6625,"type":"quantitative","scale":{"domain":[-0.6625,335.7125],"nice":false,"zero":false,"padding":0}},"x2":{"datum":320.6},"y":{"field":"v","type":"quantitative","scale":{"type":"log","domain":[31297.6,45830],"nice":false}}}},
{"data":{"name":"upper"},"mark":{"type":"line","color":"#c9bdf9","strokeWidth":1.8},"encoding":{"x":{"field":"i","type":"quantitative","scale":{"domain":[-0.6625,335.7125],"nice":false,"zero":false,"padding":0}},"y":{"field":"p","type":"quantitative","scale":{"type":"log","domain":[31297.6,45830],"nice":false}}}},
{"data":{"name":"lower"},"mark":{"type":"line","color":"#c9bdf9","strokeWidth":1.8},"encoding":{"x":{"field":"i","type":"quantitative","scale":{"domain":[-0.6625,335.7125],"nice":false,"zero":false,"padding":0}},"y":{"field":"p","type":"quantitative","scale":{"type":"log","domain":[31297.6,45830],"nice":false}}}},
{"data":{"name":"blue"},"mark":{"type":"line","color":"#c4d7fb","strokeWidth":1.8},"encoding":{"x":{"field":"i","type":"quantitative","scale":{"domain":[-0.6625,335.7125],"nice":false,"zero":false,"padding":0}},"y":{"field":"p","type":"quantitative","scale":{"type":"log","domain":[31297.6,45830],"nice":false}}}},
{"data":{"name":"red"},"mark":{"type":"line","color":"#f04545","strokeWidth":1.5,"interpolate":"step"},"encoding":{"x":{"field":"i","type":"quantitative","scale":{"domain":[-0.6625,335.7125],"nice":false,"zero":false,"padding":0}},"y":{"field":"p","type":"quantitative","scale":{"type":"log","domain":[31297.6,45830],"nice":false}}}},
{"data":{"name":"ma"},"mark":{"type":"line","color":"#8a63f2","strokeWidth":4},"encoding":{"x":{"field":"i","type":"quantitative","scale":{"domain":[-0.6625,335.7125],"nice":false,"zero":false,"padding":0}},"y":{"field":"p","type":"quantitative","scale":{"type":"log","domain":[31297.6,45830],"nice":false}}}},
{"data":{"name":"ema"},"mark":{"type":"line","color":"#16b98a","strokeWidth":3.8},"encoding":{"x":{"field":"i","type":"quantitative","scale":{"domain":[-0.6625,335.7125],"nice":false,"zero":false,"padding":0}},"y":{"field":"p","type":"quantitative","scale":{"type":"log","domain":[31297.6,45830],"nice":false}}}},
{"data":{"name":"bars"},"mark":{"type":"rule","color":"#000000","strokeWidth":1.3},"encoding":{"x":{"field":"i","type":"quantitative","scale":{"domain":[-0.6625,335.7125],"nice":false,"zero":false,"padding":0},"axis":{"orient":"bottom","values":[8,28,50,71,91,112,132,152,174,196,215,237,259,279,302],"labelExpr":"{'8':'Sep','28':'Oct','50':'Nov','71':'Dec','91':'2024','112':'Feb','132':'Mar','152':'Apr','174':'May','196':'Jun','215':'Jul','237':'Aug','259':'Sep','279':'Oct','302':'Nov'}[datum.value]","title":null,"grid":false,"ticks":false,"tickSize":0,"domain":false,"labelPadding":-22,"labelBaseline":"middle","labelAlign":"center","labelFont":"Roboto","labelFontSize":20,"labelColor":"#131722","labelOverlap":false,"labelBound":false,"labelFlush":false,"labelFontWeight":{"condition":{"test":"datum.value==91","value":"bold"},"value":"normal"}}},"y":{"field":"l","type":"quantitative","scale":{"type":"log","domain":[31297.6,45830],"nice":false}},"y2":{"field":"h"}}},
{"data":{"name":"bars"},"mark":{"type":"bar","size":5.5,"stroke":"#000000","strokeWidth":1.3},"encoding":{"x":{"field":"i","type":"quantitative","scale":{"domain":[-0.6625,335.7125],"nice":false,"zero":false,"padding":0}},"y":{"field":"o","type":"quantitative","scale":{"type":"log","domain":[31297.6,45830],"nice":false}},"y2":{"field":"c"},"fill":{"condition":{"test":"datum.c>=datum.o","value":"#ffffff"},"value":"#000000"}}},
{"data":{"values":[{"i":57,"p":33590},{"i":181,"p":39022},{"i":210,"p":38788},{"i":248,"p":40052}]},"mark":{"type":"point","filled":true,"fill":"#2962ff","stroke":"#ffffff","strokeWidth":1.5,"opacity":1,"shape":"M0,-1 L0.7,-0.3 L0.27,-0.3 L0.27,1 L-0.27,1 L-0.27,-0.3 L-0.7,-0.3 Z","size":870},"encoding":{"x":{"field":"i","type":"quantitative","scale":{"domain":[-0.6625,335.7125],"nice":false,"zero":false,"padding":0}},"y":{"field":"p","type":"quantitative","scale":{"type":"log","domain":[31297.6,45830],"nice":false}}}},
{"data":{"values":[{"i":56.3,"p":34026},{"i":180.2,"p":39423},{"i":209.3,"p":39178},{"i":247.3,"p":40527}]},"mark":{"type":"point","filled":true,"fill":"#2962ff","stroke":"#ffffff","strokeWidth":1,"opacity":1,"shape":"M-0.5,-1 L0.5,0 L-0.5,1 Z","size":400},"encoding":{"x":{"field":"i","type":"quantitative","scale":{"domain":[-0.6625,335.7125],"nice":false,"zero":false,"padding":0}},"y":{"field":"p","type":"quantitative","scale":{"type":"log","domain":[31297.6,45830],"nice":false}}}},
{"data":{"values":[{"i":162,"p":38777},{"i":193,"p":39104},{"i":229,"p":40877},{"i":313,"p":43929}]},"mark":{"type":"point","filled":true,"fill":"#e000ff","stroke":"#ffffff","strokeWidth":1.5,"opacity":1,"shape":"M-0.2,-1 L0.2,-1 L0.2,0.17 L0.64,0.17 L0,0.65 L-0.64,0.17 L-0.2,0.17 Z M-0.64,0.68 L0.64,0.68 L0.64,1 L-0.64,1 Z","size":1056},"encoding":{"x":{"field":"i","type":"quantitative","scale":{"domain":[-0.6625,335.7125],"nice":false,"zero":false,"padding":0}},"y":{"field":"p","type":"quantitative","scale":{"type":"log","domain":[31297.6,45830],"nice":false}}}},
{"data":{"values":[{"i":162.7,"p":38073},{"i":193.8,"p":38704},{"i":229.7,"p":40407},{"i":313.8,"p":43411}]},"mark":{"type":"point","filled":true,"fill":"#e000ff","stroke":"#ffffff","strokeWidth":1,"opacity":1,"shape":"M0.5,-1 L-0.5,0 L0.5,1 Z","size":400},"encoding":{"x":{"field":"i","type":"quantitative","scale":{"domain":[-0.6625,335.7125],"nice":false,"zero":false,"padding":0}},"y":{"field":"p","type":"quantitative","scale":{"type":"log","domain":[31297.6,45830],"nice":false}}}},
{"data":{"name":"notes"},"mark":{"type":"text","font":"Inter","fontSize":21.4,"baseline":"middle","align":"center","stroke":"#ffffff","strokeWidth":4,"strokeOpacity":0.9,"fill":"#ffffff"},"encoding":{"x":{"field":"i","type":"quantitative","scale":{"domain":[-0.6625,335.7125],"nice":false,"zero":false,"padding":0}},"y":{"field":"p","type":"quantitative","scale":{"type":"log","domain":[31297.6,45830],"nice":false}},"text":{"field":"t"}}},
{"data":{"name":"notes"},"mark":{"type":"text","font":"Inter","fontSize":21.4,"baseline":"middle","align":"center","fill":"#2a2e39"},"encoding":{"x":{"field":"i","type":"quantitative","scale":{"domain":[-0.6625,335.7125],"nice":false,"zero":false,"padding":0}},"y":{"field":"p","type":"quantitative","scale":{"type":"log","domain":[31297.6,45830],"nice":false}},"text":{"field":"t"}}},
{"data":{"values":[{"a":320.7,"b":335.7,"u":44635,"d":44305},{"a":320.7,"b":335.7,"u":45830,"d":45061}]},"mark":{"type":"rect","fill":"#ffffff"},"encoding":{"x":{"field":"a","type":"quantitative","scale":{"domain":[-0.6625,335.7125],"nice":false,"zero":false,"padding":0}},"x2":{"field":"b"},"y":{"field":"u","type":"quantitative","scale":{"type":"log","domain":[31297.6,45830],"nice":false}},"y2":{"field":"d"}}},
{"data":{"values":[{"a":321.3,"b":334.84,"u":45735,"d":45128}]},"mark":{"type":"rect","fill":"#ffffff","stroke":"#e6e8ee","strokeWidth":1.5,"cornerRadius":8},"encoding":{"x":{"field":"a","type":"quantitative","scale":{"domain":[-0.6625,335.7125],"nice":false,"zero":false,"padding":0}},"x2":{"field":"b"},"y":{"field":"u","type":"quantitative","scale":{"type":"log","domain":[31297.6,45830],"nice":false}},"y2":{"field":"d"}}},
{"data":{"values":[{"a":320.8,"b":334.84,"u":44874,"d":44542,"f":"#ffffff"},{"a":320.8,"b":334.84,"u":41640,"d":41332,"f":"#000000"}]},"mark":{"type":"rect","stroke":"#000000","strokeWidth":1.5,"cornerRadius":3},"encoding":{"x":{"field":"a","type":"quantitative","scale":{"domain":[-0.6625,335.7125],"nice":false,"zero":false,"padding":0}},"x2":{"field":"b"},"y":{"field":"u","type":"quantitative","scale":{"type":"log","domain":[31297.6,45830],"nice":false}},"y2":{"field":"d"},"fill":{"field":"f","type":"nominal","scale":null}}},
{"data":{"values":[{"i":333.84,"p":44722.06,"t":"44,722.06","f":"#2a2e39"},{"i":333.84,"p":41488.19,"t":"41,488.19","f":"#ffffff"}]},"mark":{"type":"text","font":"Roboto","fontSize":20.4,"baseline":"middle","align":"right"},"encoding":{"x":{"field":"i","type":"quantitative","scale":{"domain":[-0.6625,335.7125],"nice":false,"zero":false,"padding":0}},"y":{"field":"p","type":"quantitative","scale":{"type":"log","domain":[31297.6,45830],"nice":false}},"text":{"field":"t"},"fill":{"field":"f","type":"nominal","scale":null}}},
{"data":{"values":[{"i":326.2,"p":45437,"t":"USD"}]},"mark":{"type":"text","font":"Roboto","fontSize":22,"baseline":"middle","align":"center","fill":"#131722"},"encoding":{"x":{"field":"i","type":"quantitative","scale":{"domain":[-0.6625,335.7125],"nice":false,"zero":false,"padding":0}},"y":{"field":"p","type":"quantitative","scale":{"type":"log","domain":[31297.6,45830],"nice":false}},"text":{"field":"t"}}},
{"data":{"values":[{"i":1.2,"p":45437,"t":"DJI · 1D · TVC"},{"i":1.2,"p":45034,"t":"Advanced Volume Impulse Strategy"}]},"mark":{"type":"text","font":"Inter","fontSize":21.4,"baseline":"middle","align":"left","fill":"#131722"},"encoding":{"x":{"field":"i","type":"quantitative","scale":{"domain":[-0.6625,335.7125],"nice":false,"zero":false,"padding":0}},"y":{"field":"p","type":"quantitative","scale":{"type":"log","domain":[31297.6,45830],"nice":false}},"text":{"field":"t"}}},
{"data":{"values":[{"i":1.9,"p":30983}]},"mark":{"type":"point","filled":true,"fill":"#e0e0e0","opacity":1,"clip":false,"shape":"M-1,-0.5 L-0.1,-0.5 L-0.1,0.5 L-0.5,0.5 L-0.5,-0.05 L-1,-0.05 Z M0.02,-0.5 A0.2,0.2 0 1 1 0.02,-0.1 A0.2,0.2 0 1 1 0.02,-0.5 Z M0.45,-0.5 L1,-0.5 L0.55,0.5 L0.05,0.5 Z","size":1296},"encoding":{"x":{"field":"i","type":"quantitative","scale":{"domain":[-0.6625,335.7125],"nice":false,"zero":false,"padding":0}},"y":{"field":"p","type":"quantitative","scale":{"type":"log","domain":[31297.6,45830],"nice":false}}}},
{"data":{"values":[{"i":4.6,"p":30983,"t":"TradingView"}]},"mark":{"type":"text","font":"Inter","fontSize":22.2,"baseline":"middle","align":"left","fill":"#e0e0e0","clip":false},"encoding":{"x":{"field":"i","type":"quantitative","scale":{"domain":[-0.6625,335.7125],"nice":false,"zero":false,"padding":0}},"y":{"field":"p","type":"quantitative","scale":{"type":"log","domain":[31297.6,45830],"nice":false}},"text":{"field":"t"}}}
]}
